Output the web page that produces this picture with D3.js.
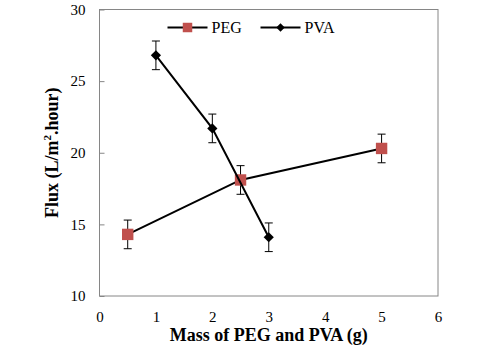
<!DOCTYPE html>
<html>
<head>
<meta charset="utf-8">
<script src="https://cdn.jsdelivr.net/npm/d3@7"></script>
<style>
  body { margin: 0; background: #fff; }
  svg text { font-family: "Liberation Serif", "Times New Roman", serif; }
</style>
</head>
<body>
<div id="chart"></div>
<script>
// data
var pegMass = [0.5, 2.5, 5];
var pegFlux = [14.3, 18.1, 20.3];
var pegErr = [1, 1, 1];
var pvaMass = [1, 2, 3];
var pvaFlux = [26.8, 21.7, 14.1];
var pvaErr = [1, 1, 1];
var xTicks = [0, 1, 2, 3, 4, 5, 6];
var yTicks = [10, 15, 20, 25, 30];

var margin = {top: 9.5, right: 62, bottom: 54, left: 99.5},
  width = 500 - margin.left - margin.right,
  height = 350 - margin.top - margin.bottom;

var root = d3.select("#chart")
.append("svg")
  .attr("width", 500)
  .attr("height", 350)
  .attr("font-family", "Liberation Serif");

var svg = root.append("g")
  .attr("transform", "translate(" + margin.left + "," + margin.top + ")");

var x = d3.scaleLinear().domain([0, 6]).range([0, width]);
var y = d3.scaleLinear().domain([10, 30]).range([height, 0]);

// plot border
svg.append("rect")
  .attr("width", width)
  .attr("height", height)
  .attr("fill", "none")
  .attr("stroke", "#868686")
  .attr("stroke-width", 1);

// y axis, ticks inside
var yAxis = svg.append("g")
  .call(d3.axisLeft(y).tickValues(yTicks).tickSize(-5).tickPadding(14))
  .attr("font-family", "Liberation Serif")
  .attr("font-size", 15);
yAxis.select(".domain").remove();
yAxis.selectAll("line").attr("stroke", "#868686");
yAxis.selectAll("text").attr("fill", "#000");

// x axis, no ticks
var xAxis = svg.append("g")
  .attr("transform", "translate(0," + height + ")")
  .call(d3.axisBottom(x).tickValues(xTicks).tickFormat(d3.format("d")).tickSize(0).tickPadding(15))
  .attr("font-family", "Liberation Serif")
  .attr("font-size", 15);
xAxis.select(".domain").remove();
xAxis.selectAll("text").attr("fill", "#000");

// axis titles
root.append("text")
  .attr("x", margin.left + width / 2)
  .attr("y", 341)
  .attr("text-anchor", "middle")
  .style("font-size", "18px")
  .style("font-weight", "bold")
  .text("Mass of PEG and PVA (g)");

var yt = root.append("text")
  .attr("transform", "translate(58," + (margin.top + height / 2) + ")rotate(-90)")
  .attr("text-anchor", "middle")
  .style("font-size", "18px")
  .style("font-weight", "bold");
yt.append("tspan").text("Flux (L/m");
yt.append("tspan").attr("dy", -7).style("font-size", "11px").text("2");
yt.append("tspan").attr("dy", 7).text(".hour)");

function series(xs, ys, es, color, size, rot) {
  var pts = xs.map(function(d, i) { return {x: d, y: ys[i], e: es[i]}; });
  var line = d3.line().x(function(d) { return x(d.x); }).y(function(d) { return y(d.y); });
  svg.append("path")
    .datum(pts)
    .attr("d", line)
    .attr("fill", "none")
    .attr("stroke", "#000")
    .attr("stroke-width", 2);

  var eb = svg.append("g").selectAll("g").data(pts).enter().append("g");
  eb.append("line")
    .attr("x1", function(d) { return x(d.x); })
    .attr("x2", function(d) { return x(d.x); })
    .attr("y1", function(d) { return y(d.y - d.e); })
    .attr("y2", function(d) { return y(d.y + d.e); })
    .attr("stroke", "#000");
  [-1, 1].forEach(function(s) {
    eb.append("line")
      .attr("x1", function(d) { return x(d.x) - 4; })
      .attr("x2", function(d) { return x(d.x) + 4; })
      .attr("y1", function(d) { return y(d.y + s * d.e); })
      .attr("y2", function(d) { return y(d.y + s * d.e); })
      .attr("stroke", "#000");
  });

  svg.append("g").selectAll("path").data(pts).enter().append("path")
    .attr("d", d3.symbol().type(d3.symbolSquare).size(size))
    .attr("transform", function(d) { return "translate(" + x(d.x) + "," + y(d.y) + ")rotate(" + rot + ")"; })
    .attr("fill", color);
}

series(pegMass, pegFlux, pegErr, "#C0504D", 130, 0);
series(pvaMass, pvaFlux, pvaErr, "#000", 52, 45);

// legend
var legend = [
  {name: "PEG", color: "#C0504D", size: 90, rot: 0, x0: 68},
  {name: "PVA", color: "#000", size: 36, rot: 45, x0: 161}
];
var lg = svg.append("g").attr("transform", "translate(0,18)");
legend.forEach(function(l) {
  lg.append("line")
    .attr("x1", l.x0).attr("x2", l.x0 + 40)
    .attr("stroke", "#000").attr("stroke-width", 2);
  lg.append("path")
    .attr("d", d3.symbol().type(d3.symbolSquare).size(l.size))
    .attr("transform", "translate(" + (l.x0 + 20) + ",0)rotate(" + l.rot + ")")
    .attr("fill", l.color);
  lg.append("text")
    .attr("x", l.x0 + 44)
    .attr("y", 5.5)
    .style("font-size", "16px")
    .text(l.name);
});
</script>
</body>
</html>
